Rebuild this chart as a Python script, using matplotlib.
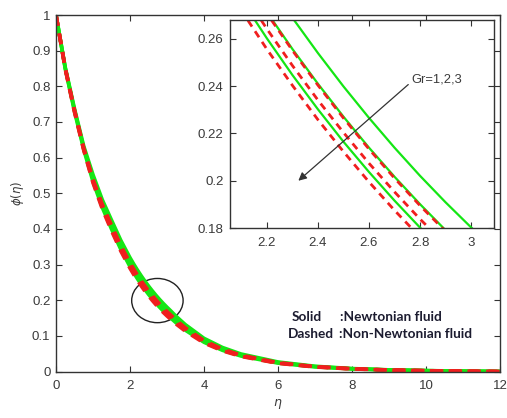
import matplotlib
matplotlib.use('Agg')
import matplotlib.pyplot as plt
from matplotlib.patches import Ellipse

# concentration profiles phi(eta) for Gr = 1, 2, 3
eta = [0, 0.25, 0.5, 0.75, 1.0, 1.25, 1.5, 1.75, 2.0, 2.1, 2.2, 2.3, 2.4, 2.5, 2.6, 2.7,
       2.8, 2.9, 3.0, 3.1, 3.25, 3.5, 4.0, 4.5, 5.0, 6.0, 7.0, 8.0, 9.0, 10.0, 11.0, 12.0]

newt_gr1 = [1.0, 0.853, 0.737, 0.632, 0.552, 0.482, 0.4247, 0.3682, 0.3192, 0.3015, 0.2847,
            0.2689, 0.2540, 0.2399, 0.2266, 0.2140, 0.2021, 0.1909, 0.1803, 0.1703, 0.1545,
            0.1312, 0.0931, 0.0674, 0.0492, 0.0268, 0.0148, 0.0083, 0.0047, 0.0026, 0.0011, 0.0]
newt_gr2 = [1.0, 0.851, 0.733, 0.627, 0.540, 0.470, 0.4109, 0.3543, 0.3054, 0.2879, 0.2713,
            0.2557, 0.2410, 0.2271, 0.2140, 0.2017, 0.1901, 0.1791, 0.1688, 0.1591, 0.1443,
            0.1226, 0.0870, 0.0630, 0.0460, 0.0250, 0.0138, 0.0078, 0.0044, 0.0024, 0.0010, 0.0]
newt_gr3 = [1.0, 0.849, 0.729, 0.622, 0.532, 0.460, 0.3993, 0.3427, 0.2941, 0.2766, 0.2602,
            0.2447, 0.2302, 0.2165, 0.2037, 0.1916, 0.1802, 0.1695, 0.1595, 0.1500, 0.1361,
            0.1156, 0.0820, 0.0594, 0.0434, 0.0236, 0.0130, 0.0074, 0.0041, 0.0023, 0.0009, 0.0]

nonnewt_gr1 = [1.0, 0.851, 0.733, 0.626, 0.539, 0.469, 0.4102, 0.3536, 0.3048, 0.2873, 0.2707,
               0.2551, 0.2404, 0.2265, 0.2134, 0.2011, 0.1895, 0.1786, 0.1683, 0.1586, 0.1439,
               0.1222, 0.0867, 0.0628, 0.0459, 0.0249, 0.0138, 0.0078, 0.0044, 0.0024, 0.0010, 0.0]
nonnewt_gr2 = [1.0, 0.850, 0.731, 0.624, 0.535, 0.463, 0.4035, 0.3469, 0.2982, 0.2807, 0.2642,
               0.2487, 0.2341, 0.2204, 0.2074, 0.1953, 0.1838, 0.1730, 0.1628, 0.1533, 0.1390,
               0.1181, 0.0838, 0.0607, 0.0443, 0.0241, 0.0133, 0.0075, 0.0042, 0.0023, 0.0010, 0.0]
nonnewt_gr3 = [1.0, 0.848, 0.727, 0.620, 0.529, 0.456, 0.3946, 0.3379, 0.2894, 0.2720, 0.2556,
               0.2403, 0.2258, 0.2123, 0.1995, 0.1875, 0.1762, 0.1656, 0.1557, 0.1463, 0.1328,
               0.1128, 0.0800, 0.0580, 0.0423, 0.0230, 0.0127, 0.0072, 0.0040, 0.0022, 0.0009, 0.0]

newtonian = [newt_gr1, newt_gr2, newt_gr3]
non_newtonian = [nonnewt_gr1, nonnewt_gr2, nonnewt_gr3]

main_xticks = [0, 2, 4, 6, 8, 10, 12]
main_yticks = [0, 0.1, 0.2, 0.3, 0.4, 0.5, 0.6, 0.7, 0.8, 0.9, 1]
main_yticklabels = ['0', '0.1', '0.2', '0.3', '0.4', '0.5', '0.6', '0.7', '0.8', '0.9', '1']
zoom_xticks = [2.2, 2.4, 2.6, 2.8, 3.0]
zoom_xticklabels = ['2.2', '2.4', '2.6', '2.8', '3']
zoom_yticks = [0.18, 0.2, 0.22, 0.24, 0.26]
zoom_yticklabels = ['0.18', '0.2', '0.22', '0.24', '0.26']

GREEN = '#14e614'
RED = '#f01e1e'
TXT = '#3a3a3a'
plt.rcParams['font.family'] = ['Liberation Sans', 'DejaVu Sans']


def style_axes(ax, xpad, ypad):
    ax.tick_params(direction='in', top=True, right=True, length=4, width=0.8,
                   colors='#333333', labelcolor=TXT, labelsize=9.5)
    ax.tick_params(axis='x', pad=xpad)
    ax.tick_params(axis='y', pad=ypad)
    for s in ax.spines.values():
        s.set_color('#333333')
        s.set_linewidth(1.0)


fig = plt.figure(figsize=(5.07, 4.18), dpi=100)

# main plot
ax = fig.add_axes([0.1105, 0.1112, 0.8757, 0.8529])
for phi in newtonian:
    ax.plot(eta, phi, color=GREEN, lw=2.6)
for phi in non_newtonian:
    ax.plot(eta, phi, color=RED, lw=2.6, ls=(0, (3, 2.2)))
ax.set_xlim(0, 12)
ax.set_ylim(0, 1)
ax.set_xticks(main_xticks)
ax.set_yticks(main_yticks)
ax.set_yticklabels(main_yticklabels)
style_axes(ax, 6, 4)
ax.set_xlabel(r'$\eta$', fontsize=9, color=TXT, labelpad=4)
ax.set_ylabel(r'$\phi(\eta)$', fontsize=8.5, color=TXT, labelpad=4)

ax.add_patch(Ellipse((2.74, 0.199), width=1.39, height=0.124, fill=False,
                     ec='#222222', lw=1.0))

legend_font = dict(family='Lato', fontweight='bold', fontsize=9.8, color='#1c1c30', va='center')
ax.text(6.37, 0.154, 'Solid', **legend_font)
ax.text(7.68, 0.154, ':Newtonian fluid', **legend_font)
ax.text(6.28, 0.105, 'Dashed', **legend_font)
ax.text(7.64, 0.105, ':Non-Newtonian fluid', **legend_font)

# zoomed inset
axin = fig.add_axes([0.4536, 0.4545, 0.5207, 0.4976])
for phi in newtonian:
    axin.plot(eta, phi, color=GREEN, lw=1.6)
for phi in non_newtonian:
    axin.plot(eta, phi, color=RED, lw=2.0, ls=(0, (2.6, 2.0)))
axin.set_xlim(2.055, 3.09)
axin.set_ylim(0.18, 0.268)
axin.set_xticks(zoom_xticks)
axin.set_xticklabels(zoom_xticklabels)
axin.set_yticks(zoom_yticks)
axin.set_yticklabels(zoom_yticklabels)
style_axes(axin, 6.5, 4.5)

axin.annotate('', xy=(2.323, 0.2), xytext=(2.754, 0.2407),
              arrowprops=dict(arrowstyle='-|>', color='#333333', lw=0.9,
                              mutation_scale=12, shrinkA=0, shrinkB=0))
axin.text(2.767, 0.2428, 'Gr=1,2,3', fontsize=9.3, color=TXT, va='center', ha='left')

plt.savefig('out.png', dpi=100)
